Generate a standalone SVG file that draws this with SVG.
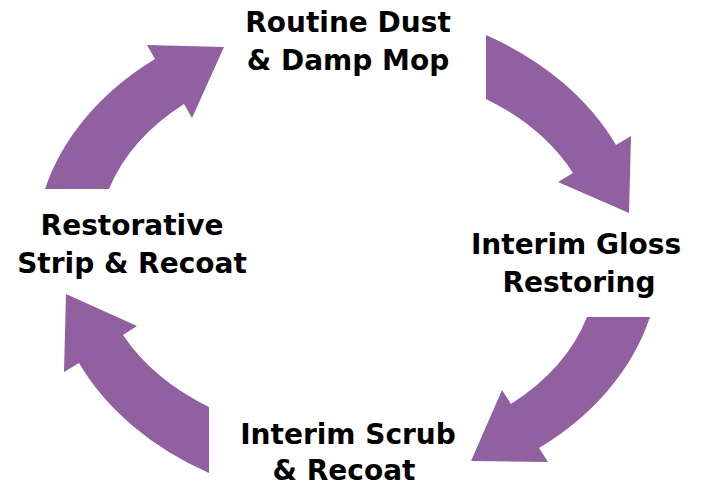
<svg xmlns="http://www.w3.org/2000/svg" width="704" height="486" viewBox="0 0 704 486">
<style>
.arrow{fill:#9060A0;stroke:none}
.lbl{font-family:"DejaVu Sans","Liberation Sans",sans-serif;font-weight:bold;font-size:28px;fill:#000;text-anchor:middle}
</style>
<rect width="704" height="486" fill="#ffffff"/>
<g id="connectors">
<path class="arrow" d="M45,189 A313,243 0 0 1 155,59 L147,45 L224,47 L192,118 L184,104 A254,184 0 0 0 109,189 Z"/>
<path class="arrow" d="M486,35 A313,243 0 0 1 616,145 L631,136 L629,213 L558,182 L573,173 A254,184 0 0 0 486,99 Z"/>
<path class="arrow" d="M650,317 A313,243 0 0 1 539,448 L548,462 L471,461 L502,390 L511,404 A254,184 0 0 0 587,317 Z"/>
<path class="arrow" d="M209,473 A313,243 0 0 1 79,363 L64,372 L66,294 L137,326 L123,335 A254,184 0 0 0 209,407 Z"/>
</g>
<g id="node-routine">
<text class="lbl" x="348" y="32">Routine Dust</text>
<text class="lbl" x="348" y="70">&amp; Damp Mop</text>
</g>
<g id="node-gloss">
<text class="lbl" x="576" y="254">Interim Gloss</text>
<text class="lbl" x="579" y="292">Restoring</text>
</g>
<g id="node-scrub">
<text class="lbl" x="348" y="444">Interim Scrub</text>
<text class="lbl" x="344" y="480">&amp; Recoat</text>
</g>
<g id="node-restorative">
<text class="lbl" x="132" y="235">Restorative</text>
<text class="lbl" x="132" y="273">Strip &amp; Recoat</text>
</g>
</svg>
